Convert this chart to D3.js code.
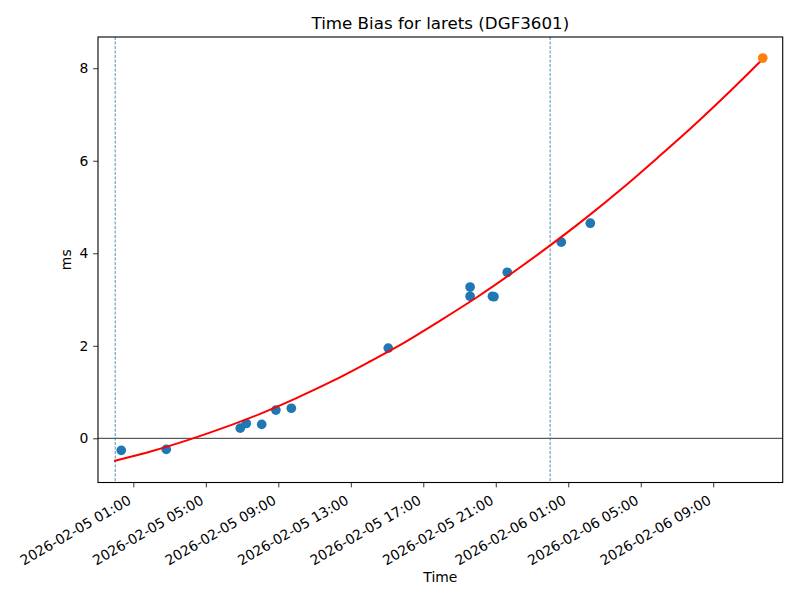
<!DOCTYPE html>
<html>
<head>
<meta charset="utf-8">
<script src="https://cdn.jsdelivr.net/npm/d3@7"></script>
<style>
  html, body { margin: 0; padding: 0; background: #fff; }
  svg { display: block; font-family: "DejaVu Sans", sans-serif; }
</style>
</head>
<body>
<svg id="chart" width="800" height="600"></svg>
<script>
// ---- data ----
const title = "Time Bias for larets (DGF3601)";
const xLabel = "Time";
const yLabel = "ms";

const obsTimes = [
  "2026-02-05T00:20", "2026-02-05T02:49", "2026-02-05T06:54", "2026-02-05T07:14",
  "2026-02-05T08:05", "2026-02-05T08:52", "2026-02-05T09:43", "2026-02-05T15:04",
  "2026-02-05T19:35", "2026-02-05T19:35", "2026-02-05T20:49", "2026-02-05T20:54",
  "2026-02-05T21:38", "2026-02-06T00:37", "2026-02-06T02:13"
];
const obsValues = [
  -0.26, -0.24, 0.22, 0.32,
  0.30, 0.61, 0.65, 1.95,
  3.27, 3.07, 3.07, 3.06,
  3.59, 4.24, 4.65
];

const predTimes = ["2026-02-06T11:44"];
const predValues = [8.22];

const fitTimes = [
  "2026-02-04T23:56", "2026-02-05T02:00", "2026-02-05T04:00", "2026-02-05T06:00",
  "2026-02-05T08:00", "2026-02-05T10:00", "2026-02-05T12:00", "2026-02-05T14:00",
  "2026-02-05T16:00", "2026-02-05T18:00", "2026-02-05T20:00", "2026-02-05T22:00",
  "2026-02-06T00:00", "2026-02-06T02:00", "2026-02-06T04:00", "2026-02-06T06:00",
  "2026-02-06T08:00", "2026-02-06T10:00", "2026-02-06T11:44"
];
const fitValues = [
  -0.49, -0.28, -0.04, 0.23,
  0.53, 0.87, 1.24, 1.65,
  2.08, 2.56, 3.06, 3.60,
  4.17, 4.77, 5.41, 6.09,
  6.79, 7.53, 8.20
];

const dayMarks = ["2026-02-05T00:00", "2026-02-06T00:00"];

const xTickTimes = [
  "2026-02-05T01:00", "2026-02-05T05:00", "2026-02-05T09:00", "2026-02-05T13:00",
  "2026-02-05T17:00", "2026-02-05T21:00", "2026-02-06T01:00", "2026-02-06T05:00",
  "2026-02-06T09:00"
];
const yTickValues = [0, 2, 4, 6, 8];

const xDomain = ["2026-02-04T23:03", "2026-02-06T12:50"];
const yDomain = [-0.955, 8.675];

// ---- layout ----
const parse = d3.utcParse("%Y-%m-%dT%H:%M");
const fmt = d3.utcFormat("%Y-%m-%d %H:%M");
const FONT = "DejaVu Sans";
const margin = { left: 98, right: 800 - 782.7, top: 37, bottom: 600 - 482.5 };
const W = 800, H = 600;
const x0 = margin.left, x1 = W - margin.right, y0 = margin.top, y1 = H - margin.bottom;

const svg = d3.select("#chart");
const x = d3.scaleUtc().domain(xDomain.map(parse)).range([x0, x1]);
const y = d3.scaleLinear().domain(yDomain).range([y1, y0]);

svg.append("clipPath").attr("id", "clip")
  .append("rect").attr("x", x0).attr("y", y0).attr("width", x1 - x0).attr("height", y1 - y0);

const plot = svg.append("g").attr("clip-path", "url(#clip)");

// zero line
plot.append("line")
  .attr("x1", x0).attr("x2", x1)
  .attr("y1", y(0)).attr("y2", y(0))
  .attr("stroke", "#000").attr("stroke-width", 0.8);

// day marks
plot.selectAll("line.day").data(dayMarks).join("line")
  .attr("class", "day")
  .attr("x1", d => x(parse(d))).attr("x2", d => x(parse(d)))
  .attr("y1", y0).attr("y2", y1)
  .attr("stroke", "#1f77b4").attr("stroke-width", 0.8)
  .attr("stroke-dasharray", "3,1.5");

// scatter
const obs = obsTimes.map((t, i) => ({ t: parse(t), v: obsValues[i] }));
plot.selectAll("circle.obs").data(obs).join("circle")
  .attr("class", "obs")
  .attr("cx", d => x(d.t)).attr("cy", d => y(d.v)).attr("r", 4.85)
  .attr("fill", "#1f77b4");

// fit line
const fit = fitTimes.map((t, i) => ({ t: parse(t), v: fitValues[i] }));
plot.append("path").datum(fit)
  .attr("fill", "none").attr("stroke", "#ff0000").attr("stroke-width", 2)
  .attr("d", d3.line().x(d => x(d.t)).y(d => y(d.v)).curve(d3.curveCatmullRom));

// prediction point
const pred = predTimes.map((t, i) => ({ t: parse(t), v: predValues[i] }));
plot.selectAll("circle.pred").data(pred).join("circle")
  .attr("class", "pred")
  .attr("cx", d => x(d.t)).attr("cy", d => y(d.v)).attr("r", 4.85)
  .attr("fill", "#ff7f0e");

// axes
const tickLen = 4.86;
const xAxis = d3.axisBottom(x).tickValues(xTickTimes.map(parse)).tickFormat(fmt)
  .tickSizeInner(tickLen).tickSizeOuter(0);
const gx = svg.append("g").attr("transform", `translate(0,${y1})`).call(xAxis)
  .attr("font-family", FONT).attr("font-size", 13.9);
gx.select(".domain").remove();
gx.selectAll(".tick line").attr("stroke", "#000").attr("stroke-width", 0.8);
gx.selectAll(".tick text")
  .attr("fill", "#000")
  .attr("text-anchor", "end")
  .attr("x", 0).attr("y", 0).attr("dy", "-3.4")
  .attr("transform", "translate(0,23.5) rotate(-30)");

const yAxis = d3.axisLeft(y).tickValues(yTickValues).tickFormat(d3.format("d"))
  .tickSizeInner(tickLen).tickSizeOuter(0).tickPadding(4.86);
const gy = svg.append("g").attr("transform", `translate(${x0},0)`).call(yAxis)
  .attr("font-family", FONT).attr("font-size", 13.9);
gy.select(".domain").remove();
gy.selectAll(".tick line").attr("stroke", "#000").attr("stroke-width", 0.8);
gy.selectAll(".tick text").attr("fill", "#000");

// frame
svg.append("rect")
  .attr("x", x0).attr("y", y0).attr("width", x1 - x0).attr("height", y1 - y0)
  .attr("fill", "none").attr("stroke", "#000").attr("stroke-width", 1.1);

// labels
svg.append("text")
  .attr("x", (x0 + x1) / 2).attr("y", 28.7)
  .attr("text-anchor", "middle").attr("font-size", "16.7px").attr("fill", "#000")
  .attr("font-family", FONT)
  .text(title);

svg.append("text")
  .attr("x", (x0 + x1) / 2).attr("y", 582)
  .attr("text-anchor", "middle").attr("font-size", "13.9px").attr("fill", "#000")
  .attr("font-family", FONT)
  .text(xLabel);

svg.append("text")
  .attr("transform", `translate(71,${(y0 + y1) / 2}) rotate(-90)`)
  .attr("text-anchor", "middle").attr("font-size", "13.9px").attr("fill", "#000")
  .attr("font-family", FONT)
  .text(yLabel);
</script>
</body>
</html>
